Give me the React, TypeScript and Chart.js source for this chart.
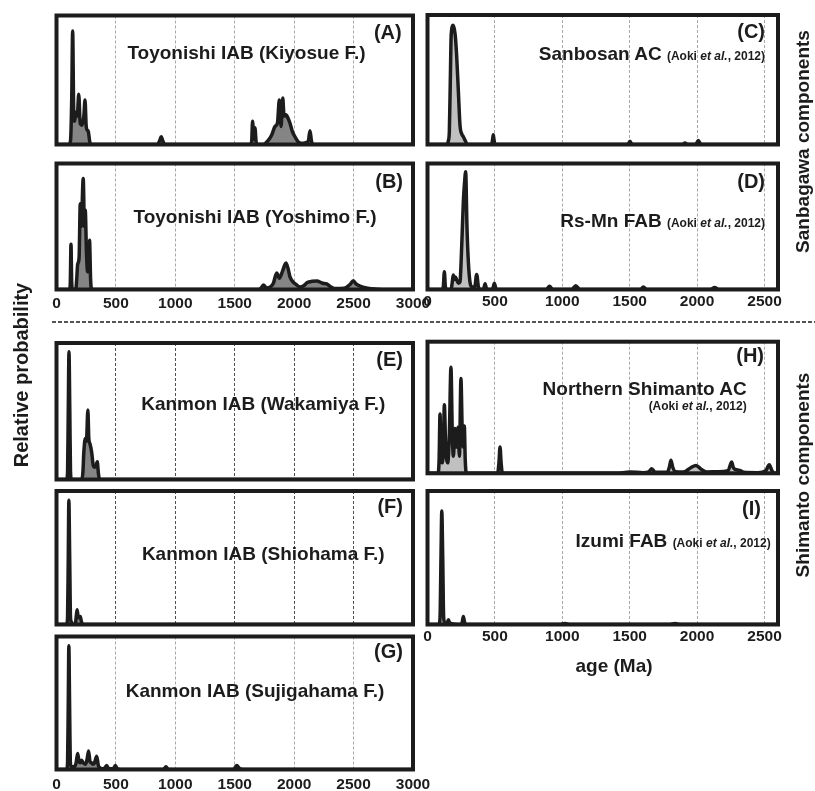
import React, { useEffect, useRef } from "react";
import { Chart, registerables } from "chart.js";
Chart.register(...registerables);

const FONT = '"Liberation Sans", Arial, Helvetica, sans-serif';

// Tick labels
const leftTicks = [0, 500, 1000, 1500, 2000, 2500, 3000];
const rightTicks = [0, 500, 1000, 1500, 2000, 2500];

// Relative probability curves: [age (Ma), relative probability]
const panelA = [
  [0, 0], [105, 0], [118, 0.03], [128, 0.35], [136, 0.88], [144, 0.3], [152, 0.18], [164, 0.25], [175, 0.22],
  [187, 0.39], [200, 0.16], [215, 0.15], [230, 0.22], [240, 0.345], [250, 0.14], [260, 0.11], [268, 0.1],
  [280, 0.02], [290, 0], [850, 0], [868, 0.03], [881, 0.06], [894, 0.03], [910, 0], [1628, 0], [1642, 0.02],
  [1650, 0.18], [1660, 0.04], [1670, 0.13], [1680, 0.02], [1692, 0], [1740, 0], [1780, 0.03], [1811, 0.074],
  [1839, 0.14], [1860, 0.17], [1875, 0.345], [1890, 0.14], [1904, 0.36], [1915, 0.22], [1931, 0.23], [1950, 0.2],
  [1965, 0.165], [1985, 0.1], [2007, 0.06], [2035, 0.02], [2060, 0.01], [2100, 0.015], [2120, 0.03], [2133, 0.107],
  [2145, 0.03], [2156, 0], [3000, 0],
];
const panelB = [
  [0, 0], [110, 0], [116, 0.05], [122, 0.36], [128, 0.05], [135, 0], [162, 0], [170, 0.08], [178, 0.2], [190, 0.25],
  [200, 0.68], [208, 0.5], [225, 0.88], [235, 0.5], [242, 0.63], [252, 0.3], [262, 0.14], [270, 0.2], [278, 0.39],
  [287, 0.08], [296, 0], [1700, 0], [1720, 0.01], [1741, 0.035], [1769, 0.012], [1800, 0.02], [1825, 0.05],
  [1853, 0.13], [1875, 0.09], [1900, 0.14], [1931, 0.21], [1950, 0.16], [1965, 0.1], [1990, 0.06], [2010, 0.045],
  [2049, 0.02], [2080, 0.03], [2110, 0.055], [2150, 0.065], [2190, 0.067], [2240, 0.05], [2274, 0.044], [2310, 0.02],
  [2340, 0.008], [2420, 0.01], [2470, 0.04], [2498, 0.07], [2520, 0.045], [2560, 0.025], [2620, 0.01], [2700, 0.003],
  [2760, 0], [3000, 0],
];
const panelC = [
  [0, 0], [145, 0], [155, 0.03], [162, 0.1], [169, 0.48], [176, 0.85], [191, 0.92], [205, 0.85], [216, 0.69],
  [229, 0.41], [241, 0.15], [255, 0.08], [266, 0.06], [280, 0.03], [295, 0], [475, 0], [483, 0.04], [488, 0.075],
  [493, 0.04], [500, 0], [1485, 0], [1502, 0.025], [1518, 0], [1890, 0], [1910, 0.012], [1930, 0], [1990, 0],
  [2009, 0.03], [2028, 0], [2600, 0],
];
const panelD = [
  [0, 0], [110, 0], [118, 0.03], [125, 0.14], [132, 0.03], [140, 0], [175, 0], [184, 0.06], [191, 0.115], [200, 0.08],
  [207, 0.1], [215, 0.08], [230, 0.05], [241, 0.06], [254, 0.35], [266, 0.7], [275, 0.85], [283, 0.935], [293, 0.49],
  [303, 0.22], [315, 0.06], [330, 0.02], [350, 0.02], [365, 0.12], [378, 0.02], [395, 0], [415, 0], [427, 0.045],
  [440, 0], [482, 0], [496, 0.05], [510, 0], [880, 0], [905, 0.025], [930, 0], [1070, 0], [1100, 0.03], [1130, 0],
  [1580, 0], [1601, 0.02], [1625, 0], [2100, 0], [2130, 0.015], [2160, 0], [2600, 0],
];
const panelE = [
  [0, 0], [85, 0], [93, 0.05], [99, 0.5], [105, 0.935], [112, 0.5], [118, 0.05], [125, 0], [212, 0], [222, 0.05],
  [230, 0.2], [242, 0.3], [252, 0.28], [264, 0.51], [272, 0.3], [282, 0.26], [296, 0.2], [310, 0.1], [320, 0.09],
  [333, 0.1], [343, 0.13], [352, 0.05], [362, 0], [3000, 0],
];
const panelF = [
  [0, 0], [85, 0], [93, 0.05], [99, 0.5], [104, 0.93], [111, 0.5], [118, 0.05], [125, 0.02], [135, 0], [158, 0],
  [165, 0.05], [173, 0.11], [182, 0.06], [190, 0.05], [200, 0.06], [210, 0.02], [218, 0], [3000, 0],
];
const panelG = [
  [0, 0], [85, 0], [93, 0.05], [99, 0.5], [104, 0.93], [110, 0.5], [117, 0.05], [125, 0.02], [150, 0.02], [165, 0.05],
  [178, 0.12], [190, 0.06], [200, 0.05], [210, 0.07], [225, 0.05], [245, 0.04], [258, 0.08], [270, 0.14], [282, 0.06],
  [295, 0.05], [305, 0.04], [320, 0.05], [338, 0.1], [352, 0.03], [370, 0.01], [400, 0.005], [422, 0.03], [440, 0.005],
  [478, 0.005], [495, 0.03], [512, 0.005], [540, 0], [900, 0], [921, 0.02], [942, 0], [1490, 0], [1516, 0.03],
  [1545, 0.005], [1600, 0], [3000, 0],
];
const panelH = [
  [0, 0], [78, 0], [86, 0.1], [93, 0.45], [100, 0.1], [110, 0.08], [118, 0.2], [125, 0.52], [135, 0.2], [150, 0.08],
  [162, 0.3], [174, 0.805], [184, 0.3], [192, 0.13], [204, 0.34], [212, 0.2], [218, 0.2], [226, 0.35], [237, 0.13],
  [248, 0.72], [258, 0.3], [265, 0.2], [273, 0.36], [280, 0.1], [288, 0], [520, 0], [530, 0.08], [538, 0.2],
  [546, 0.08], [556, 0], [1400, 0], [1500, 0.01], [1600, 0.005], [1640, 0.01], [1663, 0.035], [1690, 0.008],
  [1780, 0.01], [1795, 0.05], [1806, 0.1], [1818, 0.05], [1840, 0.012], [1900, 0.01], [1950, 0.04], [1992, 0.06],
  [2030, 0.03], [2070, 0.01], [2150, 0.012], [2230, 0.02], [2245, 0.06], [2256, 0.085], [2270, 0.04], [2300, 0.025],
  [2318, 0.022], [2345, 0.008], [2450, 0.005], [2510, 0.02], [2535, 0.065], [2555, 0.02], [2575, 0], [2600, 0],
];
const panelI = [
  [0, 0], [85, 0], [93, 0.05], [100, 0.5], [106, 0.85], [113, 0.5], [120, 0.05], [130, 0.01], [145, 0.01],
  [155, 0.035], [165, 0.01], [250, 0], [258, 0.02], [266, 0.06], [274, 0.02], [285, 0], [990, 0], [1020, 0.008],
  [1050, 0], [1800, 0], [1836, 0.008], [1870, 0], [2600, 0],
];

const DARK = "#858585";
const LIGHT = "#c0c0c0";
const GRID_LIGHT = "#a8a8a8";
const GRID_DARK = "#505050";
const INK = "#1c1c1c";

type PanelCfg = {
  data: number[][];
  x0: number; x1: number; y0: number; y1: number;
  max: number; ticks: number[]; showTicks: boolean; tickPad: number;
  fill: string; grid: string;
};

const L = { x0: 56.5, x1: 413 };
const R = { x0: 427.5, x1: 778 };

const panels: PanelCfg[] = [
  { data: panelA, ...L, y0: 15.5, y1: 144.5, max: 3000, ticks: leftTicks, showTicks: false, tickPad: 0, fill: DARK, grid: GRID_LIGHT },
  { data: panelB, ...L, y0: 163.5, y1: 289.5, max: 3000, ticks: leftTicks, showTicks: true, tickPad: 5, fill: DARK, grid: GRID_LIGHT },
  { data: panelC, ...R, y0: 15, y1: 144.5, max: 2600, ticks: rightTicks, showTicks: false, tickPad: 0, fill: LIGHT, grid: GRID_LIGHT },
  { data: panelD, ...R, y0: 163.5, y1: 289.5, max: 2600, ticks: rightTicks, showTicks: true, tickPad: 3, fill: LIGHT, grid: GRID_LIGHT },
  { data: panelE, ...L, y0: 343, y1: 479.5, max: 3000, ticks: leftTicks, showTicks: false, tickPad: 0, fill: DARK, grid: GRID_DARK },
  { data: panelF, ...L, y0: 491, y1: 624.5, max: 3000, ticks: leftTicks, showTicks: false, tickPad: 0, fill: DARK, grid: GRID_DARK },
  { data: panelG, ...L, y0: 636.5, y1: 769.5, max: 3000, ticks: leftTicks, showTicks: true, tickPad: 6, fill: DARK, grid: GRID_LIGHT },
  { data: panelH, ...R, y0: 341.7, y1: 473.3, max: 2600, ticks: rightTicks, showTicks: false, tickPad: 0, fill: LIGHT, grid: GRID_LIGHT },
  { data: panelI, ...R, y0: 491, y1: 624.5, max: 2600, ticks: rightTicks, showTicks: true, tickPad: 3, fill: LIGHT, grid: GRID_LIGHT },
];

const boxPlugin = {
  id: "panelBox",
  afterDraw(chart: any) {
    const { ctx, chartArea } = chart;
    ctx.save();
    ctx.lineWidth = 4;
    ctx.strokeStyle = INK;
    ctx.strokeRect(chartArea.left, chartArea.top, chartArea.right - chartArea.left, chartArea.bottom - chartArea.top);
    ctx.restore();
  },
};

function Panel({ cfg }: { cfg: PanelCfg }) {
  const ref = useRef<HTMLCanvasElement | null>(null);
  const axisH = cfg.showTicks ? 30 : 0;
  const cLeft = Math.floor(cfg.x0) - 30;
  const cRight = Math.ceil(cfg.x1) + 30;
  const cTop = Math.floor(cfg.y0) - 6;
  const cBottom = Math.ceil(cfg.y1) + 6 + axisH;
  const w = cRight - cLeft;
  const h = cBottom - cTop;
  const pad = {
    left: cfg.x0 - cLeft,
    right: cRight - cfg.x1,
    top: cfg.y0 - cTop,
    bottom: cBottom - axisH - cfg.y1,
  };

  useEffect(() => {
    if (!ref.current) return;
    const chart = new Chart(ref.current, {
      type: "line",
      data: {
        datasets: [
          {
            data: cfg.data.map(([x, y]) => ({ x, y })),
            borderColor: INK,
            borderWidth: 3.5,
            backgroundColor: cfg.fill,
            fill: "origin",
            pointRadius: 0,
            cubicInterpolationMode: "monotone",
            borderJoinStyle: "round",
            borderCapStyle: "round",
          } as any,
        ],
      },
      options: {
        animation: false,
        responsive: false,
        events: [],
        layout: { padding: pad },
        plugins: { legend: { display: false }, tooltip: { enabled: false } },
        scales: {
          x: {
            type: "linear",
            min: 0,
            max: cfg.max,
            grid: { color: cfg.grid, lineWidth: 1, drawTicks: false },
            border: { display: false, dash: [3, 2] },
            ticks: {
              display: cfg.showTicks,
              padding: cfg.tickPad,
              color: "#1c1c1c",
              font: { family: FONT, size: 15.5, weight: "bold" },
              maxRotation: 0,
              autoSkip: false,
              callback: (v: any) => String(v),
            },
            afterBuildTicks: (scale: any) => {
              scale.ticks = cfg.ticks.map((v) => ({ value: v }));
            },
            afterFit: (scale: any) => {
              scale.height = axisH;
            },
          },
          y: { display: false, min: 0, max: 1 },
        },
      } as any,
      plugins: [boxPlugin],
    });
    return () => chart.destroy();
  }, []);

  return (
    <canvas
      ref={ref}
      width={w}
      height={h}
      style={{ position: "absolute", left: cLeft, top: cTop, width: w, height: h }}
    />
  );
}

const T = { fontFamily: FONT, fontWeight: 700 as any, fill: "#1c1c1c" };

export default function App() {
  return (
    <div style={{ position: "absolute", left: 0, top: 0, width: 815, height: 791, background: "#fff", overflow: "hidden" }}>
      {panels.map((p, i) => (
        <Panel key={i} cfg={p} />
      ))}
      <svg width={815} height={791} style={{ position: "absolute", left: 0, top: 0, pointerEvents: "none" }}>
        <line x1={52} y1={322} x2={815} y2={322} stroke={INK} strokeWidth={1.5} strokeDasharray="4 2" />
        <g {...T} style={{ whiteSpace: "pre" }}>
          {/* panel letters */}
          <text x={401.7} y={38.5} fontSize={20} textAnchor="end">(A)</text>
          <text x={403} y={188} fontSize={20} textAnchor="end">(B)</text>
          <text x={765} y={38} fontSize={20} textAnchor="end">(C)</text>
          <text x={765} y={188} fontSize={20} textAnchor="end">(D)</text>
          <text x={403} y={366} fontSize={20} textAnchor="end">(E)</text>
          <text x={403} y={513} fontSize={20} textAnchor="end">(F)</text>
          <text x={403} y={658} fontSize={20} textAnchor="end">(G)</text>
          <text x={764} y={362} fontSize={20} textAnchor="end">(H)</text>
          <text x={761} y={515} fontSize={20} textAnchor="end">(I)</text>

          {/* titles */}
          <text x={246.5} y={59.3} fontSize={19} textAnchor="middle">Toyonishi IAB (Kiyosue F.)</text>
          <text x={255} y={222.5} fontSize={19} textAnchor="middle">Toyonishi IAB (Yoshimo F.)</text>
          <text x={765} y={60} textAnchor="end">
            <tspan fontSize={19}>Sanbosan AC </tspan>
            <tspan fontSize={12}>(Aoki </tspan>
            <tspan fontSize={12} fontStyle="italic">et al.</tspan>
            <tspan fontSize={12}>, 2012)</tspan>
          </text>
          <text x={765} y={226.5} textAnchor="end">
            <tspan fontSize={19}>Rs-Mn FAB </tspan>
            <tspan fontSize={12}>(Aoki </tspan>
            <tspan fontSize={12} fontStyle="italic">et al.</tspan>
            <tspan fontSize={12}>, 2012)</tspan>
          </text>
          <text x={263.3} y={410} fontSize={19} textAnchor="middle">Kanmon IAB (Wakamiya F.)</text>
          <text x={263.3} y={560} fontSize={19} textAnchor="middle">Kanmon IAB (Shiohama F.)</text>
          <text x={255} y={696.7} fontSize={19} textAnchor="middle">Kanmon IAB (Sujigahama F.)</text>
          <text x={746.7} y={395} fontSize={19} textAnchor="end">Northern Shimanto AC</text>
          <text x={746.7} y={410} textAnchor="end">
            <tspan fontSize={12}>(Aoki </tspan>
            <tspan fontSize={12} fontStyle="italic">et al.</tspan>
            <tspan fontSize={12}>, 2012)</tspan>
          </text>
          <text x={770.7} y={546.7} textAnchor="end">
            <tspan fontSize={19}>Izumi FAB </tspan>
            <tspan fontSize={12}>(Aoki </tspan>
            <tspan fontSize={12} fontStyle="italic">et al.</tspan>
            <tspan fontSize={12}>, 2012)</tspan>
          </text>

          {/* axis titles */}
          <text x={614} y={671.6} fontSize={19} textAnchor="middle">age (Ma)</text>
          <text transform="translate(28,375) rotate(-90)" fontSize={20} textAnchor="middle">Relative probability</text>
          <text transform="translate(808.6,141.5) rotate(-90)" fontSize={19} textAnchor="middle">Sanbagawa components</text>
          <text transform="translate(808.6,475) rotate(-90)" fontSize={19} textAnchor="middle">Shimanto components</text>
        </g>
      </svg>
    </div>
  );
}
